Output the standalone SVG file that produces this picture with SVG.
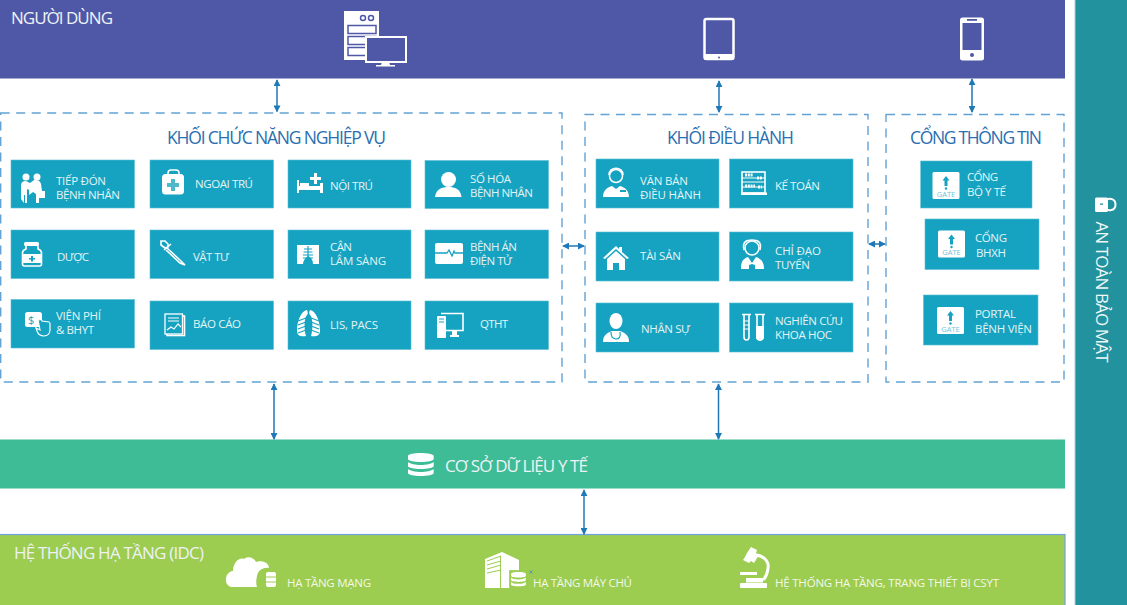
<svg xmlns="http://www.w3.org/2000/svg" width="1127" height="605" viewBox="0 0 1127 605">
<style>
text{font-family:"Open Sans","Noto Sans","Liberation Sans",sans-serif}
.t{font-size:11.5px;fill:#e4f3f6;font-weight:500}
.h{font-size:17.5px;fill:#2a6fb0;font-weight:500}
.b{font-size:17px;fill:#eef2f6}
.s{font-size:11.5px;fill:#f3f8e8}
.tile{fill:#15a3c1;stroke:#5dbdd3;stroke-width:.6}
.dash{fill:none;stroke:#62a2d4;stroke-width:1.4;stroke-dasharray:9 6.5}
.i{fill:#fff}
.o{fill:none;stroke:#fff;stroke-width:1.6}
.c{fill:#15a3c1}
.cl{fill:none;stroke:#15a3c1;stroke-width:1.2}
.arr{stroke:#1f78b8;stroke-width:1.5;fill:none;marker-start:url(#a);marker-end:url(#a)}
.gt{font-size:7.500px;fill:#6fc3d6;text-anchor:middle}
</style>
<defs>
<marker id="a" viewBox="0 0 8 8" refX="7" refY="4" markerWidth="7" markerHeight="7" markerUnits="userSpaceOnUse" orient="auto-start-reverse"><path d="M0 0L8 4L0 8z" fill="#1f78b8"/></marker>
<g id="gate"><rect width="27" height="27" rx="1.5" fill="#fff"/><path d="M13.5 4L17 8.5H15V14H12V8.5H10z" class="c"/><circle cx="13.5" cy="16.5" r="1.2" class="c"/><text x="13.5" y="24.5" class="gt">GATE</text></g>
<g id="db"><path d="M0 3C0 -1 24 -1 24 3V6C24 10 0 10 0 6z M0 9C4 13 20 13 24 9V13C24 17 0 17 0 13z M0 16C4 20 20 20 24 16V20C24 24 0 24 0 20z" class="i"/></g>
</defs>

<g id="bar-security"><rect x="1075" y="0" width="52" height="605" fill="#21929e"/><rect x="1074.5" y="0" width="1" height="605" fill="#a9cfd3"/>
<path d="M1106 200.500c2-3 9.500-2.500 9.500 4s-7.500 7-9.500 4" fill="none" stroke="#fff" stroke-width="2"/><rect x="1095" y="197.500" width="13" height="14.500" rx="1.500" class="i"/><rect x="1100" y="203.500" width="3" height="1.300" fill="#21929e"/>
<text transform="translate(1096 221.500) rotate(90)" font-size="17" fill="#f0f7f8" textLength="141">AN TOÀN BẢO MẬT</text></g>

<g id="bar-users"><rect x="0" y="0" width="1065" height="78.500" fill="#4e58a6"/>
<text x="11" y="24" class="b" textLength="102">NGƯỜI DÙNG</text>
<g id="icon-server"><rect x="344" y="11" width="35" height="49" class="i"/><circle cx="363" cy="18" r="2.500" fill="#fff" stroke="#4e58a6" stroke-width="1.500"/><circle cx="371" cy="18" r="2.500" fill="#fff" stroke="#4e58a6" stroke-width="1.500"/><rect x="348" y="25.500" width="28" height="8" fill="none" stroke="#4e58a6" stroke-width="1.500"/><rect x="348" y="36.500" width="28" height="8" fill="none" stroke="#4e58a6" stroke-width="1.500"/><rect x="348" y="47.500" width="28" height="8" fill="none" stroke="#4e58a6" stroke-width="1.500"/><rect x="366" y="37" width="40" height="25" fill="#4e58a6" stroke="#fff" stroke-width="2"/><path d="M382 62h7l1 3h5v1.500h-19V65h5z" class="i"/></g>
<g id="icon-tablet"><rect x="704.500" y="19" width="29" height="40" rx="2" fill="none" stroke="#fff" stroke-width="2.500"/><rect x="704" y="54" width="30" height="6" rx="1.500" class="i"/><circle cx="719" cy="57.500" r="1" fill="#4e58a6"/></g>
<g id="icon-phone"><rect x="960" y="17.500" width="24" height="43" rx="2.500" class="i"/><rect x="962.500" y="23" width="19" height="27" fill="#4e58a6"/><rect x="967" y="19" width="10" height="1.800" fill="#4e58a6"/><circle cx="972" cy="55" r="2" fill="#4e58a6"/></g></g>

<g id="group-nghiep-vu"><rect x=".7" y="113" width="561.300" height="269" class="dash"/><text x="167" y="144" class="h" textLength="219">KHỐI CHỨC NĂNG NGHIỆP VỤ</text></g>
<g id="group-dieu-hanh"><rect x="585" y="114.500" width="283" height="267.500" class="dash"/><text x="667" y="144" class="h" textLength="127">KHỐI ĐIỀU HÀNH</text></g>
<g id="group-cong"><rect x="886" y="114.500" width="178" height="267.500" class="dash"/><text x="910" y="144" class="h" textLength="132">CỔNG THÔNG TIN</text></g>

<g id="tiep-don"><rect x="11" y="160" width="123.500" height="48" class="tile"/><circle cx="26" cy="177" r="3.500" class="i"/><circle cx="37" cy="177" r="3.500" class="i"/><path d="M21 199V186c0-4 2-5 5-5l4 2 4-3c3 0 6 0 7 4l1 7h3v7h-6v5h-3v-9l-3-2-4 3v-5l-2-1v14h-2v-8h-1v8z" class="i"/><text x="56" y="184.500" class="t" textLength="50">TIẾP ĐÓN</text><text x="56" y="198.500" class="t" textLength="64">BỆNH NHÂN</text></g>
<g id="ngoai-tru"><rect x="150" y="160" width="123.500" height="48" class="tile"/><path d="M168 175v-2c0-2 1-3 3-3h5c2 0 3 1 3 3v2" fill="none" stroke="#fff" stroke-width="1.500"/><rect x="162" y="174" width="22" height="20.500" rx="3.500" class="i"/><path d="M171 179h4v4h4v4h-4v4h-4v-4h-4v-4h4z" fill="#4fb9cc"/><text x="195" y="188" class="t" textLength="58">NGOẠI TRÚ</text></g>
<g id="noi-tru"><rect x="288" y="160" width="123" height="48" class="tile"/><path d="M297 180h2v6h21v-3h3v10h-3v-3h-21v3h-2z" class="i"/><rect x="300" y="183" width="9" height="3" class="i"/><path d="M311 178h4v-4h3v4h4v3h-4v4h-3v-4h-4z" class="i" transform="translate(-1 -1)"/><text x="330" y="189.500" class="t" textLength="43">NỘI TRÚ</text></g>
<g id="so-hoa"><rect x="425" y="160.500" width="123.500" height="48" class="tile"/><circle cx="448.500" cy="179.500" r="7.500" class="i"/><path d="M435 197c1-8 7-10 13.500-10s12 2 13 10z" class="i"/><text x="470" y="183" class="t" textLength="41">SỐ HÓA</text><text x="470" y="197" class="t" textLength="63">BỆNH NHÂN</text></g>

<g id="duoc"><rect x="11" y="230" width="123.500" height="48.500" class="tile"/><rect x="24" y="242" width="15" height="4" rx="1.500" class="i"/><path d="M26 246v3c-3 1-3.500 2-3.500 4v11c0 1 .5 2 2 2h15c1.500 0 2-1 2-2v-11c0-2-.5-3-3.500-4v-3" class="o"/><rect x="23" y="254" width="18" height="9" class="i"/><path d="M31 256h2v2h2v1.500h-2v2h-2v-2h-2V258h2z" class="c"/><text x="57" y="260.500" class="t" textLength="32">DƯỢC</text></g>
<g id="vat-tu"><rect x="150" y="230" width="123.500" height="48.500" class="tile"/><path d="M161 241l4 0 3 3 0 3-3 1-4-3z" class="o"/><path d="M167 248l14 13 4 4-5-2-14-13" class="o"/><path d="M164 250l7-6" class="o"/><text x="193" y="260.500" class="t" textLength="36">VẬT TƯ</text></g>
<g id="can-lam-sang"><rect x="288" y="230" width="123" height="48.500" class="tile"/><path d="M297 245h22v19h-6c0-3-1-6-5-8-3 2-5 5-5 8h-6z" class="i"/><path d="M308 246v15M304 249h8M303.500 252h9M303 255h10M303 258h10" class="cl"/><text x="330" y="251" class="t" textLength="22">CẬN</text><text x="330" y="265" class="t" textLength="56">LÂM SÀNG</text></g>
<g id="benh-an"><rect x="425" y="230" width="123.500" height="48.500" class="tile"/><rect x="435" y="243" width="28" height="21" rx="2" class="i"/><path d="M435 253h12l2-3 3 6 2-5 1 2h8" fill="none" stroke="#15a3c1" stroke-width="1.300"/><text x="470" y="251" class="t" textLength="47">BỆNH ÁN</text><text x="470" y="265" class="t" textLength="42">ĐIỆN TỬ</text></g>

<g id="vien-phi"><rect x="11" y="299.500" width="123.500" height="48.500" class="tile"/><rect x="25" y="312" width="17" height="15" rx="2.500" class="i"/><text x="28" y="324" font-size="11" fill="#15a3c1">$</text><path d="M38 320c3-1 4 0 4 1l7 1c1 0 1 1 1 2v6c0 3-2 6-6 6s-6-2-7-5l-1-3 4 2z" fill="#15a3c1" stroke="#fff" stroke-width="1.200"/><text x="56" y="320" class="t" textLength="45">VIỆN PHÍ</text><text x="56" y="334" class="t" textLength="38">&amp; BHYT</text></g>
<g id="bao-cao"><rect x="150" y="301" width="123.500" height="48.500" class="tile"/><rect x="167" y="316" width="17.500" height="19.500" class="o"/><rect x="165" y="314" width="17.500" height="20" fill="#15a3c1" stroke="#fff" stroke-width="1.300"/><path d="M168 318h11M168 321h11" stroke="#fff" stroke-width="1.200"/><path d="M167 330l4-3 3 2 4-5 3 3" fill="none" stroke="#fff" stroke-width="1.200"/><text x="193" y="328" class="t" textLength="48">BÁO CÁO</text></g>
<g id="lis-pacs"><rect x="288" y="301" width="123" height="48.500" class="tile"/><path d="M307 310c1 2 1 4 0 5-3 2-3 15-1 21-4 1-9 0-9-5 0-10 4-20 10-21zM310 310c-1 2-1 4 0 5 3 2 3 15 1 21 4 1 9 0 9-5 0-10-4-20-10-21z" class="i"/><path d="M298 321l8-3M298 325l8-3M298 329l8-3M298 333l8-3M319 321l-8-3M319 325l-8-3M319 329l-8-3M319 333l-8-3" class="cl" stroke-width=".9"/><text x="330" y="329" class="t" textLength="48">LIS, PACS</text></g>
<g id="qtht"><rect x="425" y="301" width="123.500" height="48.500" class="tile"/><rect x="437" y="316" width="9" height="22" rx="1" class="i"/><path d="M439 319h5M439 322h5" class="cl"/><path d="M441 313.500h22v17h-17" class="o"/><path d="M452 331h5v4h2v2h-9v-2h2z" class="i"/><text x="480" y="328" class="t" textLength="28">QTHT</text></g>

<g id="van-ban"><rect x="596" y="159" width="123" height="49" class="tile"/><circle cx="616" cy="176" r="6.500" fill="#15a3c1" stroke="#fff" stroke-width="1.500"/><path d="M609 175c0-9 14-9 14 0" class="o"/><path d="M603 197c0-7 5-10 9-11l4 3 4-3c4 1 9 4 9 11z" class="i"/><rect x="620" y="190" width="6" height="2" class="c"/><text x="640" y="185" class="t" textLength="48">VĂN BẢN</text><text x="640" y="198.500" class="t" textLength="61">ĐIỀU HÀNH</text></g>
<g id="ke-toan"><rect x="729.500" y="159" width="123.500" height="49" class="tile"/><rect x="742" y="172" width="23" height="21" class="o"/><rect x="741" y="192.500" width="26" height="2.500" class="i"/><path d="M742 178h23M742 182h23M742 187h23" stroke="#fff" stroke-width="1.200"/><path d="M745 175h8M757 178h5M745 186h10M758 187h4" stroke="#fff" stroke-width="3" stroke-dasharray="2 .8"/><text x="775" y="190" class="t" textLength="45">KẾ TOÁN</text></g>
<g id="tai-san"><rect x="596" y="232" width="123" height="49" class="tile"/><path d="M603 258l13-12 3 3v-2h3v5l7 6-2 1-11-10-11 10zM607 259l9-8 9 8v11h-6v-7h-6v7h-6z" class="i"/><text x="640" y="260" class="t" textLength="41">TÀI SẢN</text></g>
<g id="chi-dao"><rect x="729.500" y="232" width="123.500" height="49" class="tile"/><circle cx="752" cy="248" r="7" fill="#15a3c1" stroke="#fff" stroke-width="1.600"/><path d="M744 250c-2-9 3-10 8-10s10 1 8 10" class="o"/><path d="M741 269c0-6 1-10 7-12l4 6 4-6c6 2 8 6 8 12h-9v-4l-3-1-3 1v4z" class="i"/><text x="775" y="255" class="t" textLength="46">CHỈ ĐẠO</text><text x="775" y="268.500" class="t" textLength="35">TUYẾN</text></g>
<g id="nhan-su"><rect x="596" y="303" width="123" height="49" class="tile"/><ellipse cx="616" cy="321" rx="6.500" ry="8" class="i"/><path d="M603 342c0-7 4-9 9-11h8c5 2 9 4 9 11z" class="i"/><path d="M611 332c0 6 2 6 5 7 3 0 5-2 4-7" class="cl"/><text x="641" y="333" class="t" textLength="49">NHÂN SỰ</text></g>
<g id="nghien-cuu"><rect x="729.500" y="303" width="123.500" height="49" class="tile"/><path d="M742 314.500h9M744 315v22c0 4 5 4 5 0v-22" class="o"/><path d="M743 321h6M743 325h6M743 329h6" stroke="#fff" stroke-width="1"/><path d="M755 314.500h10M757 315v22c0 4 6 4 6 0v-22" class="o"/><path d="M756 326h8v11c0 5-8 5-8 0z" class="i"/><text x="775" y="325" class="t" textLength="68">NGHIÊN CỨU</text><text x="775" y="338.500" class="t" textLength="57">KHOA HỌC</text></g>

<g id="cong-byt"><rect x="920.700" y="161" width="111.300" height="47" class="tile"/><use href="#gate" x="932.500" y="172"/><text x="967" y="181" class="t" textLength="31">CỔNG</text><text x="967" y="196" class="t" textLength="39">BỘ Y TẾ</text></g>
<g id="cong-bhxh"><rect x="925" y="219" width="114" height="50.500" class="tile"/><use href="#gate" x="938" y="230.500"/><text x="975" y="242" class="t" textLength="32">CỔNG</text><text x="976" y="257" class="t" textLength="30">BHXH</text></g>
<g id="portal"><rect x="923.500" y="295" width="114.500" height="50" class="tile"/><use href="#gate" x="937" y="307"/><text x="975" y="318" class="t" textLength="41">PORTAL</text><text x="975" y="333" class="t" textLength="57">BỆNH VIỆN</text></g>

<g id="bar-database"><rect x="0" y="439.500" width="1065" height="49" fill="#3dbc95"/><use href="#db" transform="translate(408 453) scale(1.070 1)"/><text x="445" y="471.500" class="b" textLength="143">CƠ SỞ DỮ LIỆU Y TẾ</text></g>

<g id="bar-infra"><rect x="-3" y="534.500" width="1068" height="75" fill="#9ccc50" stroke="#6fa1e8" stroke-width="1.200"/><text x="14" y="559" class="b" textLength="190">HỆ THỐNG HẠ TẦNG (IDC)</text>
<g id="icon-cloud"><path d="M233 587c-10 0-9-15 0-16 0-8 6-14 11-12 3-3 10-2 12 3 6-2 13 1 13 6-7-1-11 3-12 8-1 4-1 8 0 11z" class="i"/><rect x="266" y="572" width="10" height="15" rx="2" class="i"/><path d="M266 577h10M266 582h10" stroke="#9ccc50" stroke-width="1"/></g>
<text x="287" y="587" class="s" textLength="84">HẠ TẦNG MẠNG</text>
<g id="icon-building"><path d="M485 559l17-7 17 8v28h-34z" class="i"/><path d="M487 561l14-5M487 565l14-4M487 569l14-4M487 573l14-3" stroke="#9ccc50" stroke-width="1"/><path d="M500.500 556v32" stroke="#9ccc50" stroke-width="1"/><g transform="translate(511 572) scale(.62)"><rect x="-3" y="-3" width="30" height="31" fill="#9ccc50"/><use href="#db"/></g><path d="M529.500 570.500l3 3M532.500 570.500l-3 3" stroke="#4a86c8" stroke-width=".8"/></g>
<text x="533" y="587" class="s" textLength="99">HẠ TẦNG MÁY CHỦ</text>
<g id="icon-microscope"><path d="M747 553l4-6 6 3-1 3 3 2-5 8-3-2-2 2-6-3 2-3z" class="i"/><path d="M757 555c9 2 12 8 11 13-.5 5-2 9-5 12" fill="none" stroke="#fff" stroke-width="3"/><rect x="740" y="572" width="17" height="3" class="i"/><rect x="746" y="578" width="17" height="4.500" class="i"/><rect x="740" y="583" width="27" height="5" rx="1" class="i"/></g>
<text x="775" y="587" class="s" textLength="224">HỆ THỐNG HẠ TẦNG, TRANG THIẾT BỊ CSYT</text></g>

<g id="connectors">
<path d="M277 80V111.500" class="arr"/><path d="M719 81V112" class="arr"/><path d="M972 79V112" class="arr"/>
<path d="M274 384V439" class="arr"/><path d="M718.500 384V439" class="arr"/><path d="M584 490V534" class="arr"/>
<path d="M563 246H584" class="arr"/><path d="M869 244H885" class="arr"/>
</g>
</svg>
